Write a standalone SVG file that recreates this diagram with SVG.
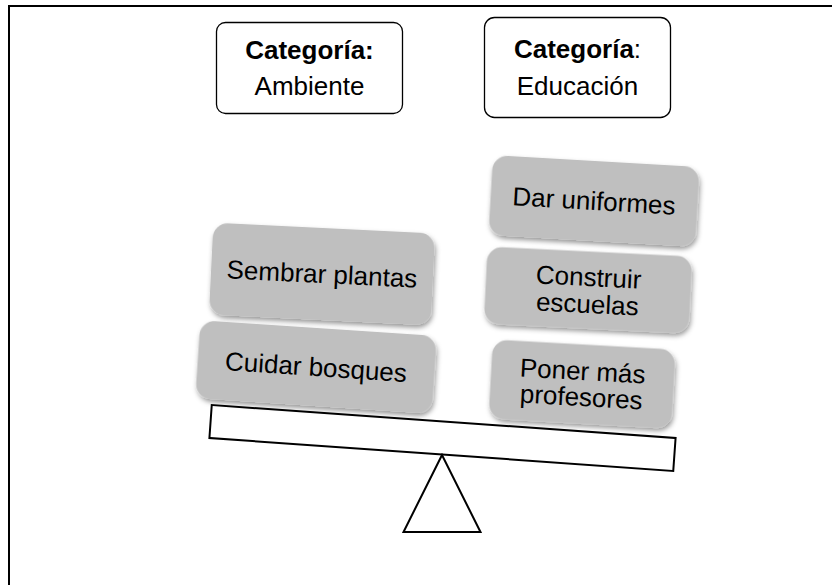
<svg xmlns="http://www.w3.org/2000/svg" width="832" height="585" viewBox="0 0 832 585">
<defs>
<filter id="sh" x="-20%" y="-30%" width="140%" height="160%">
<feDropShadow dx="1.5" dy="3" stdDeviation="2.5" flood-color="#000" flood-opacity="0.4"/>
</filter>
<style>
.cat{fill:#fff;stroke:#000;stroke-width:1.3}
.card{fill:#bfbfbf;filter:url(#sh)}
.t{font-family:"Liberation Sans",Arial,sans-serif;font-size:26px;fill:#000;text-anchor:middle}
.b{font-weight:bold}
.line{fill:none;stroke:#000;stroke-width:2}
</style>
</defs>
<rect width="832" height="585" fill="#fff"/>
<g id="frame">
<line class="line" x1="8" y1="6" x2="832" y2="6"/>
<line class="line" x1="9" y1="5" x2="9" y2="585" stroke-width="2.5"/>
</g>
<g id="cat-ambiente">
<rect class="cat" x="216.5" y="22.5" width="186" height="91" rx="9"/>
<text class="t b" x="309.5" y="58.5">Categoría:</text>
<text class="t" x="309.5" y="95">Ambiente</text>
</g>
<g id="cat-educacion">
<rect class="cat" x="484.5" y="17.5" width="186" height="100" rx="10"/>
<text class="t" x="577.5" y="57.5"><tspan class="b">Categoría</tspan>:</text>
<text class="t" x="577.5" y="95">Educación</text>
</g>
<g id="plank">
<rect class="line" x="-232.5" y="-16.5" width="465" height="33" transform="translate(442.5 438) rotate(4.07)" fill="#fff"/>
</g>
<g id="fulcrum">
<polygon class="line" points="442,455 403.5,532 480.5,532" fill="#fff"/>
</g>
<g id="sembrar" transform="translate(322 274) rotate(2.8)">
<rect class="card" x="-111" y="-46" width="222" height="92" rx="15"/>
<text class="t" x="0" y="9">Sembrar plantas</text>
</g>
<g id="cuidar" transform="translate(316 367) rotate(3.8)">
<rect class="card" x="-118.5" y="-39" width="237" height="78" rx="15"/>
<text class="t" x="0" y="9">Cuidar bosques</text>
</g>
<g id="dar" transform="translate(594 201) rotate(3.3)">
<rect class="card" x="-103.5" y="-40" width="207" height="80" rx="15"/>
<text class="t" x="0" y="9">Dar uniformes</text>
</g>
<g id="construir" transform="translate(588 290) rotate(2.8)">
<rect class="card" x="-102.5" y="-38.5" width="205" height="77" rx="15"/>
<text class="t" x="0" y="-4">Construir</text>
<text class="t" x="0" y="23">escuelas</text>
</g>
<g id="poner" transform="translate(582 384) rotate(3.2)">
<rect class="card" x="-91.5" y="-39.5" width="183" height="79" rx="15"/>
<text class="t" x="0" y="-4">Poner más</text>
<text class="t" x="0" y="22">profesores</text>
</g>
<g id="connectors"></g>
</svg>
